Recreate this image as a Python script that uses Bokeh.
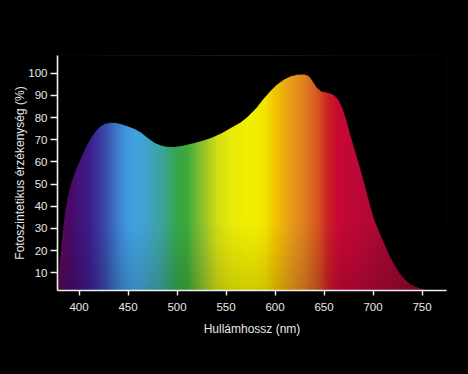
import numpy as np
from bokeh.plotting import figure
from bokeh.models import FixedTicker
from bokeh.embed import file_html
from bokeh.resources import INLINE

# Photosynthetic sensitivity curve
wavelength = [378, 379, 381, 383, 385, 388, 392, 397, 402, 407, 412, 417, 422, 427, 432,
              437, 442, 450, 457, 463, 470, 477, 484, 490, 497, 505, 515, 525, 535, 545,
              555, 565, 572, 580, 588, 595, 602, 609, 616, 623, 630, 634, 637, 640, 643,
              647, 652, 657, 661, 665, 669, 673, 677, 682, 687, 692, 697, 702, 708, 713,
              718, 723, 728, 733, 738, 743, 749, 755, 762]
sensitivity = [3, 10, 20, 29, 36, 44, 51, 57, 62, 67, 71, 74, 76.3, 77.4, 77.8,
               77.8, 77.3, 76.2, 75, 73.5, 71, 68.8, 67.5, 67, 66.9, 67.4, 68.4, 69.6, 71, 73,
               75.5, 78, 80.5, 84, 88.5, 92, 95, 97.3, 98.8, 99.5, 99.6, 99, 97.5, 95.5, 93.5,
               92, 91.5, 91, 90, 88, 84.5, 79, 72.5, 65, 57.5, 49.5, 41, 33.5, 27, 22,
               17, 13, 9.5, 7, 5, 4, 3, 2.5, 2]

x_ticks = [400, 450, 500, 550, 600, 650, 700, 750]
y_ticks = [10, 20, 30, 40, 50, 60, 70, 80, 90, 100]

# spectrum colour stops (wavelength, colour)
stop_wl = [378, 390, 410, 425, 445, 455, 470, 485, 500, 510, 525, 540, 555, 575, 590,
           600, 615, 630, 645, 655, 665, 690, 720, 760, 775]
stop_col = ["#5c0850", "#4a0a68", "#3e1c8c", "#3a48a8", "#3e90d8", "#42a2e2", "#40a2c8",
            "#3ca49a", "#36a648", "#3caa3c", "#8cc030", "#d0dc14", "#e8ea08", "#f2f000",
            "#f4e400", "#f2c400", "#e8a018", "#e08020", "#d45020", "#cc2028", "#c80834",
            "#b80838", "#a00830", "#800828", "#700820"]

X0, X1, Y0, Y1 = 378, 775, 2, 108

p = figure(width=468, height=374, output_backend="svg", toolbar_location=None,
           x_range=(X0, X1), y_range=(Y0, Y1),
           background_fill_color="#000000", border_fill_color="#000000",
           min_border_left=57, min_border_right=22, min_border_top=55, min_border_bottom=84)
p.outline_line_color = None
p.grid.visible = False

# gradient image
W, H = 400, 60
xs = np.linspace(X0, X1, W)
rgb = np.array([[int(c[i:i + 2], 16) for i in (1, 3, 5)] for c in stop_col], dtype=float)
cols = np.stack([np.interp(xs, stop_wl, rgb[:, k]) for k in range(3)], axis=1)
ys = np.linspace(Y0, Y1, H)
shade = np.clip(0.86 + 0.14 * (ys - Y0) / 30.0, 0, 1)
img = np.zeros((H, W, 4), dtype=np.uint8)
img[:, :, :3] = np.clip(cols[None, :, :] * shade[:, None, None], 0, 255).astype(np.uint8)
img[:, :, 3] = 255
p.image_rgba(image=[img.view(dtype=np.uint32).reshape((H, W))], x=X0, y=Y0, dw=X1 - X0, dh=Y1 - Y0)

# black mask above the curve
mx = [X0 - 2, X0 - 2] + wavelength + [X1 + 2, X1 + 2]
my = [Y1 + 2, sensitivity[0]] + sensitivity + [Y0 - 1, Y1 + 2]
p.patch(mx, my, fill_color="#000000", line_color="#000000", line_width=0.8)

for ax in (p.xaxis, p.yaxis):
    ax.axis_line_color = "#f0f0f0"
    ax.axis_line_width = 1.6
    ax.major_tick_line_color = "#f0f0f0"
    ax.major_tick_line_width = 1.4
    ax.minor_tick_line_color = None
    ax.major_tick_in = 0
    ax.major_label_text_color = "#e8e8e8"
    ax.major_label_text_font = "Liberation Sans"
    ax.major_label_text_font_size = "11.5px"
    ax.axis_label_text_color = "#e8e8e8"
    ax.axis_label_text_font = "Liberation Sans"
    ax.axis_label_text_font_size = "12px"
    ax.axis_label_text_font_style = "normal"

p.xaxis.ticker = FixedTicker(ticks=x_ticks)
p.yaxis.ticker = FixedTicker(ticks=y_ticks)
p.xaxis.major_tick_out = 5
p.yaxis.major_tick_out = 7
p.xaxis.major_label_standoff = 7
p.yaxis.major_label_standoff = 3
p.xaxis.axis_label = "Hullámhossz (nm)"
p.yaxis.axis_label = "Fotoszintetikus érzékenység (%)"
p.xaxis.axis_label_standoff = 8
p.yaxis.axis_label_standoff = -2

html = file_html(p, INLINE)
html = html.replace("<head>", "<head><style>html,body{background:#000000;}</style>", 1)
open("out.html", "w").write(html)
